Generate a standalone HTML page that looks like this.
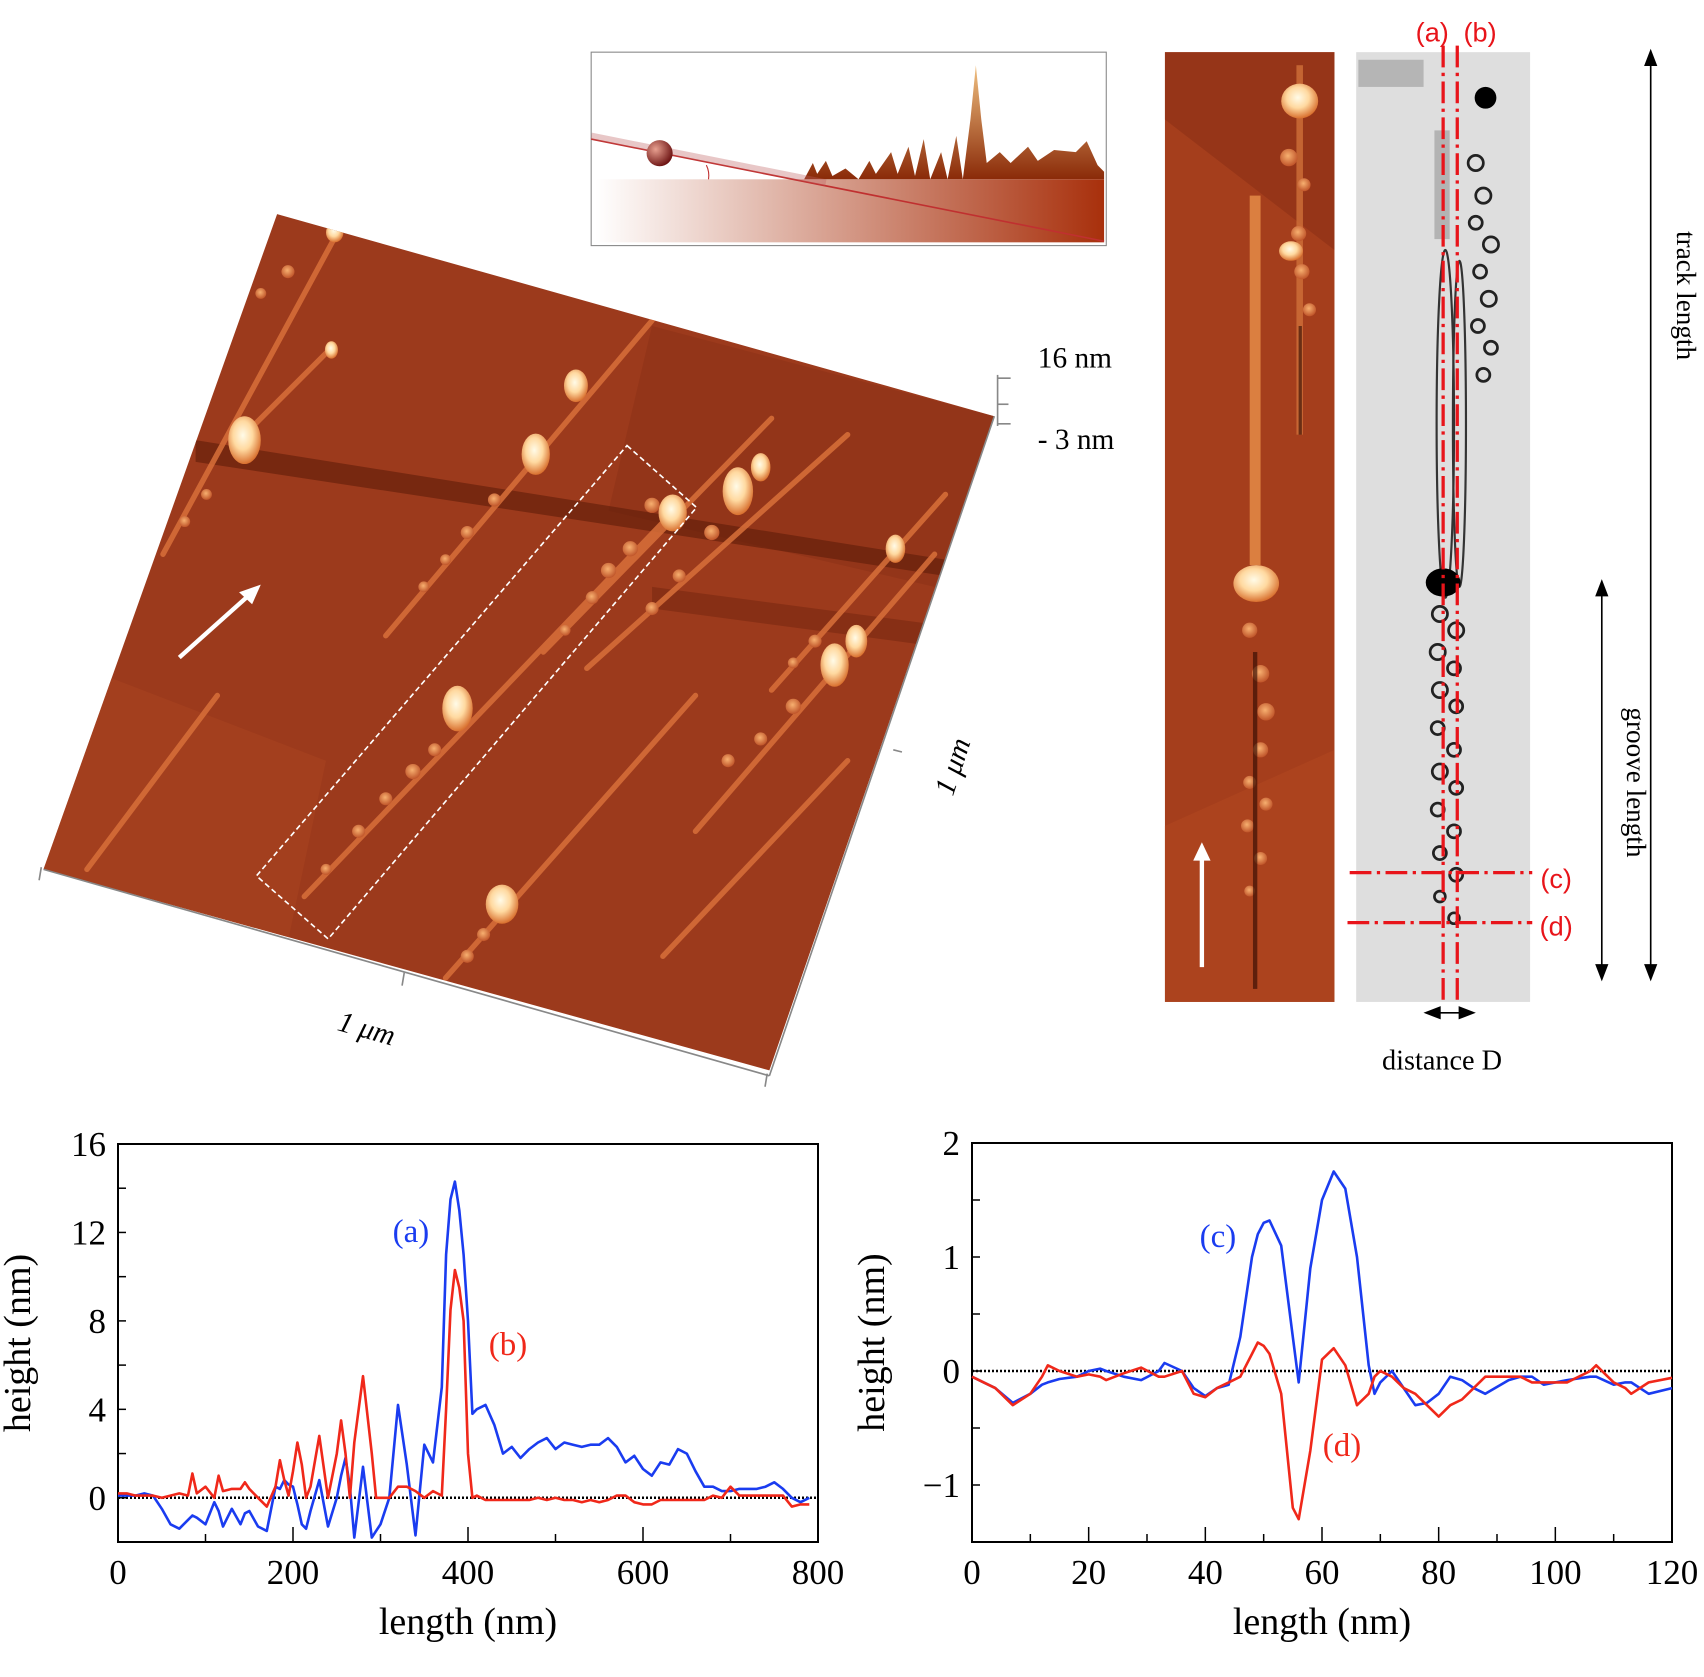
<!DOCTYPE html>
<html><head><meta charset="utf-8"><style>
html,body{margin:0;padding:0;background:#fff;}
svg{display:block;}
text{font-family:"Liberation Serif",serif;}
</style></head><body>
<svg id="fig" width="1704" height="1677" viewBox="0 0 1704 1677" xmlns="http://www.w3.org/2000/svg">
<defs>
<radialGradient id="blob" cx="0.45" cy="0.4" r="0.6"><stop offset="0" stop-color="#fffbe8"/><stop offset="0.5" stop-color="#ffd9a0"/><stop offset="1" stop-color="#d9702f"/></radialGradient>
<radialGradient id="sblob" cx="0.45" cy="0.4" r="0.6"><stop offset="0" stop-color="#f7b070"/><stop offset="1" stop-color="#c0552a"/></radialGradient>
<linearGradient id="base" x1="0" x2="1"><stop offset="0" stop-color="#fff"/><stop offset="1" stop-color="#a8300c"/></linearGradient>
<linearGradient id="peak" x1="0" x2="0" y1="0" y2="1"><stop offset="0" stop-color="#f0c080"/><stop offset="1" stop-color="#8a2a08"/></linearGradient>
<clipPath id="afmclip"><polygon points="255,197 915,383 708,985 40,800"/></clipPath>
<radialGradient id="ball" cx="0.35" cy="0.35" r="0.7"><stop offset="0" stop-color="#e8a090"/><stop offset="1" stop-color="#6a1010"/></radialGradient>
</defs>
<g transform="scale(1.0867)">
 <g>
  <polygon points="255,197 915,383 708,985 40,800" fill="#9c3a1c"/>
  <g clip-path="url(#afmclip)">
   <polygon points="40,600 300,700 240,985 40,900" fill="#a8431f" opacity="0.6"/>
   <polygon points="600,300 915,383 860,540 560,470" fill="#8e3218" opacity="0.6"/>
   <polygon points="180,405 870,515 870,530 180,425" fill="#5a1a08" opacity="0.55"/>
   <polygon points="600,540 900,580 900,600 600,560" fill="#6a200c" opacity="0.4"/>
   <g stroke="#d9703a" stroke-width="5" stroke-linecap="round" opacity="0.85">
    <line x1="150" y1="510" x2="310" y2="215"/>
    <line x1="230" y1="395" x2="305" y2="320"/>
    <line x1="355" y1="585" x2="600" y2="295"/>
    <line x1="280" y1="825" x2="625" y2="465"/>
    <line x1="500" y1="600" x2="710" y2="385"/>
    <line x1="540" y1="615" x2="780" y2="400"/>
    <line x1="710" y1="635" x2="870" y2="455"/>
    <line x1="640" y1="765" x2="860" y2="510"/>
    <line x1="410" y1="900" x2="640" y2="640"/>
    <line x1="80" y1="800" x2="200" y2="640"/>
    <line x1="610" y1="880" x2="780" y2="700"/>
   </g>
   <g fill="url(#sblob)">
    <circle cx="170" cy="480" r="5"/><circle cx="190" cy="455" r="5"/><circle cx="210" cy="300" r="5"/><circle cx="240" cy="270" r="5"/><circle cx="265" cy="250" r="6"/>
    <circle cx="390" cy="540" r="5"/><circle cx="410" cy="515" r="5"/><circle cx="430" cy="490" r="6"/><circle cx="455" cy="460" r="6"/>
    <circle cx="300" cy="800" r="5"/><circle cx="330" cy="765" r="6"/><circle cx="355" cy="735" r="6"/><circle cx="380" cy="710" r="7"/><circle cx="400" cy="690" r="6"/>
    <circle cx="520" cy="580" r="5"/><circle cx="545" cy="550" r="6"/><circle cx="560" cy="525" r="7"/><circle cx="580" cy="505" r="7"/>
    <circle cx="600" cy="560" r="6"/><circle cx="625" cy="530" r="6"/><circle cx="655" cy="490" r="7"/>
    <circle cx="730" cy="610" r="5"/><circle cx="750" cy="590" r="6"/><circle cx="670" cy="700" r="6"/><circle cx="700" cy="680" r="6"/><circle cx="730" cy="650" r="7"/>
    <circle cx="430" cy="880" r="6"/><circle cx="445" cy="860" r="6"/><circle cx="600" cy="465" r="7"/>
   </g>
   <g fill="url(#blob)">
    <ellipse cx="225" cy="405" rx="15" ry="22"/>
    <ellipse cx="493" cy="418" rx="13" ry="19"/>
    <ellipse cx="530" cy="355" rx="11" ry="15"/>
    <ellipse cx="421" cy="652" rx="14" ry="21"/>
    <ellipse cx="619" cy="472" rx="13" ry="17"/>
    <ellipse cx="679" cy="452" rx="14" ry="22"/>
    <ellipse cx="700" cy="430" rx="9" ry="13"/>
    <ellipse cx="768" cy="612" rx="13" ry="20"/>
    <ellipse cx="788" cy="590" rx="10" ry="15"/>
    <ellipse cx="824" cy="505" rx="9" ry="13"/>
    <ellipse cx="462" cy="832" rx="15" ry="18"/>
    <ellipse cx="308" cy="214" rx="8" ry="9"/>
    <ellipse cx="305" cy="322" rx="6" ry="8"/>
   </g>
  </g>
  <polygon points="577,410 641,467 302,864 236,806" fill="none" stroke="#fff" stroke-width="1.5" stroke-dasharray="5,3"/>
  <g>
   <line x1="165" y1="605" x2="230" y2="547" stroke="#fff" stroke-width="4"/>
   <polygon points="240,538 220,545 232,556" fill="#fff"/>
  </g>
  <g stroke="#888" stroke-width="1.5" fill="none">
   <polyline points="40,800 708,990"/>
   <polyline points="915,383 708,990"/>
   <polyline points="918,345 918,392"/>
   <line x1="918" y1="348" x2="930" y2="348"/><line x1="918" y1="372" x2="928" y2="372"/><line x1="918" y1="390" x2="930" y2="390"/>
   <line x1="38" y1="798" x2="36" y2="810"/><line x1="372" y1="895" x2="370" y2="907"/><line x1="706" y1="988" x2="704" y2="1000"/>
   <line x1="822" y1="690" x2="830" y2="692"/>
  </g>
  <text x="955" y="338" font-size="27">16 nm</text>
  <text x="955" y="413" font-size="27">- 3 nm</text>
  <text x="335" y="955" font-size="27" font-style="italic" text-anchor="middle" transform="rotate(16 335 955)">1 μm</text>
  <text x="885" y="708" font-size="27" font-style="italic" text-anchor="middle" transform="rotate(-72 885 708)">1 μm</text>
 </g>
 <g>
  <rect x="544" y="48" width="474" height="178" fill="#fff" stroke="#888" stroke-width="1"/>
  <rect x="548" y="165" width="468" height="58" fill="url(#base)"/>
  <polygon points="740,165 748,150 752,160 760,148 766,162 778,155 790,165 800,148 806,160 820,140 826,160 836,135 842,162 850,128 856,165 866,140 872,165 880,125 886,165 893,110 898,60 903,110 908,150 920,140 930,150 946,135 955,148 970,138 990,140 1000,130 1010,152 1016,158 1016,165" fill="url(#peak)"/>
  <line x1="544" y1="128" x2="1016" y2="222" stroke="#c03030" stroke-width="1.5"/>
  <line x1="544" y1="125" x2="760" y2="168" stroke="#c06060" stroke-width="6" opacity="0.35"/>
  <circle cx="607" cy="141" r="12" fill="url(#ball)"/>
  <path d="M650,152 Q653,158 652,165" stroke="#c03030" fill="none" stroke-width="1"/>
 </g>
 <g>
  <rect x="1072" y="48" width="156" height="874" fill="#a53e1c"/>
  <polygon points="1072,48 1228,48 1228,230 1072,110" fill="#8c3016" opacity="0.6"/>
  <polygon points="1072,760 1228,690 1228,922 1072,922" fill="#b04820" opacity="0.6"/>
  <rect x="1150" y="180" width="10" height="340" fill="#e8904a" opacity="0.8"/>
  <rect x="1193" y="60" width="6" height="340" fill="#d0703a" opacity="0.8"/>
  <g fill="url(#sblob)">
   <circle cx="1186" cy="145" r="8"/><circle cx="1200" cy="170" r="6"/><circle cx="1195" cy="215" r="7"/><circle cx="1198" cy="250" r="7"/><circle cx="1205" cy="285" r="6"/>
   <circle cx="1150" cy="580" r="7"/><circle cx="1160" cy="620" r="8"/><circle cx="1165" cy="655" r="8"/><circle cx="1160" cy="690" r="7"/><circle cx="1150" cy="720" r="6"/><circle cx="1165" cy="740" r="6"/><circle cx="1148" cy="760" r="6"/><circle cx="1160" cy="790" r="6"/><circle cx="1150" cy="820" r="5"/>
  </g>
  <rect x="1153" y="600" width="4" height="310" fill="#2a0800" opacity="0.6"/>
  <rect x="1195" y="300" width="3" height="100" fill="#2a0800" opacity="0.6"/>
  <ellipse cx="1196" cy="93" rx="17" ry="16" fill="url(#blob)"/>
  <ellipse cx="1188" cy="231" rx="11" ry="9" fill="url(#blob)"/>
  <ellipse cx="1156" cy="537" rx="21" ry="17" fill="url(#blob)"/>
  <line x1="1106" y1="890" x2="1106" y2="790" stroke="#fff" stroke-width="4"/>
  <polygon points="1106,775 1098,792 1114,792" fill="#fff"/>
 </g>
 <g>
  <rect x="1248" y="48" width="160" height="874" fill="#dedede"/>
  <rect x="1250" y="55" width="60" height="25" fill="#999" opacity="0.6"/>
  <rect x="1320" y="120" width="14" height="100" fill="#888" opacity="0.5"/>
  <g fill="none" stroke="#333" stroke-width="2">
   <ellipse cx="1330" cy="390" rx="8" ry="160"/>
   <ellipse cx="1343" cy="390" rx="6" ry="150"/>
  </g>
  <g fill="none" stroke="#222" stroke-width="2.5">
   <circle cx="1358" cy="150" r="7"/><circle cx="1365" cy="180" r="7"/><circle cx="1358" cy="205" r="6"/><circle cx="1372" cy="225" r="7"/><circle cx="1362" cy="250" r="6"/><circle cx="1370" cy="275" r="7"/><circle cx="1360" cy="300" r="6"/><circle cx="1372" cy="320" r="6"/><circle cx="1365" cy="345" r="6"/>
   <circle cx="1325" cy="565" r="7"/><circle cx="1340" cy="580" r="7"/><circle cx="1323" cy="600" r="7"/><circle cx="1338" cy="615" r="6"/><circle cx="1325" cy="635" r="7"/><circle cx="1340" cy="650" r="6"/><circle cx="1323" cy="670" r="6"/><circle cx="1338" cy="690" r="6"/><circle cx="1325" cy="710" r="7"/><circle cx="1340" cy="725" r="6"/><circle cx="1323" cy="745" r="6"/><circle cx="1338" cy="765" r="6"/><circle cx="1325" cy="785" r="6"/><circle cx="1340" cy="805" r="6"/><circle cx="1325" cy="825" r="5"/><circle cx="1338" cy="845" r="5"/>
  </g>
  <ellipse cx="1367" cy="90" rx="10" ry="10" fill="#000"/>
  <ellipse cx="1328" cy="536" rx="16" ry="13" fill="#000"/>
  <g stroke="#e8141a" stroke-width="3" stroke-dasharray="20,5,3,5" fill="none">
   <line x1="1328" y1="42" x2="1328" y2="922"/>
   <line x1="1341" y1="42" x2="1341" y2="922"/>
   <line x1="1242" y1="803" x2="1410" y2="803"/>
   <line x1="1240" y1="849" x2="1410" y2="849"/>
  </g>
  <g fill="#e8141a" font-size="25" style="font-family:'Liberation Sans',sans-serif">
   <text x="1318" y="38" text-anchor="middle" style="font-family:'Liberation Sans',sans-serif">(a)</text>
   <text x="1362" y="38" text-anchor="middle" style="font-family:'Liberation Sans',sans-serif">(b)</text>
   <text x="1432" y="817" text-anchor="middle" style="font-family:'Liberation Sans',sans-serif">(c)</text>
   <text x="1432" y="861" text-anchor="middle" style="font-family:'Liberation Sans',sans-serif">(d)</text>
  </g>
 </g>
 <g stroke="#000" stroke-width="1.5" fill="#000">
  <line x1="1519" y1="55" x2="1519" y2="893"/>
  <polygon points="1519,47 1514,60 1524,60"/><polygon points="1519,901 1514,888 1524,888"/>
  <line x1="1474" y1="543" x2="1474" y2="893"/>
  <polygon points="1474,535 1469,548 1479,548"/><polygon points="1474,901 1469,888 1479,888"/>
  <line x1="1318" y1="932" x2="1350" y2="932"/>
  <polygon points="1312,932 1325,927 1325,937"/><polygon points="1356,932 1343,927 1343,937"/>
 </g>
 <text x="1543" y="272" font-size="25" text-anchor="middle" transform="rotate(90 1543 272)">track length</text>
 <text x="1497" y="720" font-size="25" text-anchor="middle" transform="rotate(90 1497 720)">groove length</text>
 <text x="1327" y="984" font-size="26" text-anchor="middle">distance D</text>
</g>
<g id="chartL"></g>
<g id="chartR"></g>
</svg>
<script>
const abX = [0,10,20,30,40,50,60,70,80,85,90,100,110,115,120,130,140,145,150,160,170,180,185,190,195,200,205,210,215,220,230,240,250,255,260,265,270,280,290,295,300,310,320,330,340,350,360,370,375,380,385,390,395,400,405,410,420,430,440,450,460,470,480,490,500,510,520,530,540,550,560,570,580,590,600,610,620,630,640,650,660,670,680,690,700,710,720,730,740,750,760,770,780,790];
const aY = [0.1,0.1,0.1,0.2,0.1,-0.5,-1.2,-1.4,-1.0,-0.8,-0.9,-1.2,-0.2,-0.6,-1.3,-0.5,-1.2,-0.7,-0.6,-1.3,-1.5,0.5,0.4,0.8,0.6,0.5,-0.3,-1.2,-1.4,-0.6,0.8,-1.3,0.0,1.0,1.8,0.5,-1.8,1.4,-1.8,-1.5,-1.2,0.0,4.2,1.5,-1.7,2.4,1.6,5.0,11.0,13.5,14.3,13.0,11.0,8.0,3.8,4.0,4.2,3.3,2.0,2.3,1.8,2.2,2.5,2.7,2.2,2.5,2.4,2.3,2.4,2.4,2.7,2.3,1.6,1.9,1.3,1.0,1.6,1.5,2.2,2.0,1.2,0.5,0.5,0.3,0.3,0.4,0.4,0.4,0.5,0.7,0.4,0.0,-0.2,0.0];
const bY = [0.2,0.2,0.1,0.1,0.1,0.0,0.1,0.2,0.1,1.1,0.2,0.5,0.0,1.0,0.3,0.4,0.4,0.7,0.4,0.0,-0.4,0.5,1.7,0.8,0.1,1.2,2.5,1.5,0.0,0.5,2.8,0.0,2.0,3.5,2.0,0.0,2.5,5.5,2.0,0.0,0.0,0.0,0.5,0.5,0.3,0.0,0.3,0.1,4.0,8.5,10.3,9.5,8.0,2.0,0.0,0.1,-0.1,-0.1,-0.1,-0.1,-0.1,-0.1,0.0,-0.1,0.0,-0.1,-0.1,-0.2,-0.1,-0.2,-0.1,0.1,0.1,-0.2,-0.3,-0.3,-0.1,-0.1,-0.1,-0.1,-0.1,-0.1,0.1,0.0,0.5,0.1,0.1,0.1,0.1,0.1,0.1,-0.4,-0.3,-0.3];
const abXTicks = [0,200,400,600,800];
const abYTicks = [0,4,8,12,16];

const cdX = [0,2,4,7,10,12,13,15,18,20,22,23,26,29,32,33,36,38,40,42,44,46,48,49,50,51,53,55,56,58,60,62,64,66,68,69,70,72,74,76,78,80,82,84,86,88,92,94,96,98,102,106,107,110,112,113,116,120];
const cY = [-0.05,-0.1,-0.15,-0.28,-0.2,-0.12,-0.1,-0.07,-0.05,0.0,0.02,0.0,-0.05,-0.08,0.0,0.07,0.0,-0.15,-0.22,-0.15,-0.12,0.3,1.0,1.2,1.3,1.32,1.1,0.3,-0.1,0.9,1.5,1.75,1.6,1.0,0.05,-0.2,-0.1,0.0,-0.15,-0.3,-0.28,-0.2,-0.05,-0.08,-0.15,-0.2,-0.08,-0.05,-0.05,-0.12,-0.08,-0.05,-0.05,-0.12,-0.1,-0.1,-0.2,-0.15];
const dY = [-0.05,-0.1,-0.15,-0.3,-0.2,-0.05,0.05,0.0,-0.05,-0.03,-0.05,-0.08,-0.02,0.03,-0.05,-0.05,0.0,-0.2,-0.23,-0.15,-0.1,-0.05,0.15,0.25,0.22,0.15,-0.2,-1.2,-1.3,-0.7,0.1,0.2,0.05,-0.3,-0.2,-0.05,0.0,-0.05,-0.15,-0.2,-0.3,-0.4,-0.3,-0.25,-0.15,-0.05,-0.05,-0.05,-0.1,-0.1,-0.1,0.0,0.05,-0.1,-0.15,-0.2,-0.1,-0.06];
const cdXTicks = [0,20,40,60,80,100,120];
const cdYTicks = [-1,0,1,2];

const NS = 'http://www.w3.org/2000/svg';
function mk(tag, attrs, parent){const e=document.createElementNS(NS,tag);for(const k in attrs)e.setAttribute(k,attrs[k]);parent.appendChild(e);return e;}

function drawChart(g, cfg){
  const {L,R,T,B,x0,x1,y0,y1} = cfg;
  const sx = v => L + (v-x0)/(x1-x0)*(R-L);
  const sy = v => B - (v-y0)/(y1-y0)*(B-T);
  const frame = mk('rect',{x:L,y:T,width:R-L,height:B-T,fill:'none',stroke:'#000','stroke-width':2},g);
  
  
  cfg.xTicks.forEach((v,i)=>{
    const t = mk('line',{x1:sx(v),x2:sx(v),y1:B,y2:B-15,stroke:'#000','stroke-width':1.5},g);
    
    
    const lb = mk('text',{x:sx(v),y:B+42,'font-size':35,'text-anchor':'middle'},g);
    lb.textContent = cfg.xTicks[i];
    
    
    if(i<cfg.xTicks.length-1){
      const m=(v+cfg.xTicks[i+1])/2;
      const mt = mk('line',{x1:sx(m),x2:sx(m),y1:B,y2:B-8,stroke:'#000','stroke-width':1.5},g);
      
      
    }
  });
  cfg.yTicks.forEach((v,i)=>{
    const t = mk('line',{x1:L,x2:L+8,y1:sy(v),y2:sy(v),stroke:'#000','stroke-width':1.5},g);
    
    
    const lb = mk('text',{x:L-12,y:sy(v)+12,'font-size':35,'text-anchor':'end'},g);
    lb.textContent = String(cfg.yTicks[i]).replace('-','\u2212');
    
    
    if(i<cfg.yTicks.length-1){
      const m=(v+cfg.yTicks[i+1])/2;
      const mt = mk('line',{x1:L,x2:L+8,y1:sy(m),y2:sy(m),stroke:'#000','stroke-width':1.5},g);
      
      
    }
  });
  if(y0 < cfg.yTicks[0]){
    const m = cfg.yTicks[0]-(cfg.yTicks[1]-cfg.yTicks[0])/2;
    if(m>=y0){
      const mt = mk('line',{x1:L,x2:L+8,y1:sy(m),y2:sy(m),stroke:'#000','stroke-width':1.5},g);
      
      
    }
  }
  const z = mk('line',{x1:L,x2:R,y1:sy(0),y2:sy(0),stroke:'#000','stroke-width':2.5,'stroke-dasharray':'2,2'},g);
  
  
  cfg.series.forEach(s=>{
    const pts = cfg.xs.map((x,i)=>sx(x).toFixed(1)+','+sy(s.ys[i]).toFixed(1)).join(' ');
    const p = mk('polyline',{points:pts,fill:'none',stroke:s.color,'stroke-width':2.6,'stroke-linejoin':'round'},g);
    
    
    const lb = mk('text',{x:s.lx,y:s.ly,'font-size':33,fill:s.color,'text-anchor':'middle'},g);
    lb.textContent = s.label;
    
    
  });
  const xt = mk('text',{x:(L+R)/2,y:B+92,'font-size':38,'text-anchor':'middle'},g);
  xt.textContent='length (nm)';
  
  
  const yx=L-88, yy=(T+B)/2;
  const yt = mk('text',{x:yx,y:yy,'font-size':38,'text-anchor':'middle',transform:`rotate(-90 ${yx} ${yy})`},g);
  yt.textContent='height (nm)';
  
  
}

drawChart(document.getElementById('chartL'),{L:118,R:818,T:1144,B:1542,x0:0,x1:800,y0:-2,y1:16,
  xTicks:abXTicks,yTicks:abYTicks,xs:abX,
  series:[{name:'series-a',ys:aY,color:'#1a3cf0',label:'(a)',lx:411,ly:1242},
          {name:'series-b',ys:bY,color:'#f0281a',label:'(b)',lx:508,ly:1355}]});
drawChart(document.getElementById('chartR'),{L:972,R:1672,T:1143,B:1542,x0:0,x1:120,y0:-1.5,y1:2,
  xTicks:cdXTicks,yTicks:cdYTicks,xs:cdX,
  series:[{name:'series-c',ys:cY,color:'#1a3cf0',label:'(c)',lx:1218,ly:1247},
          {name:'series-d',ys:dY,color:'#f0281a',label:'(d)',lx:1342,ly:1456}]});
</script>
</body></html>
